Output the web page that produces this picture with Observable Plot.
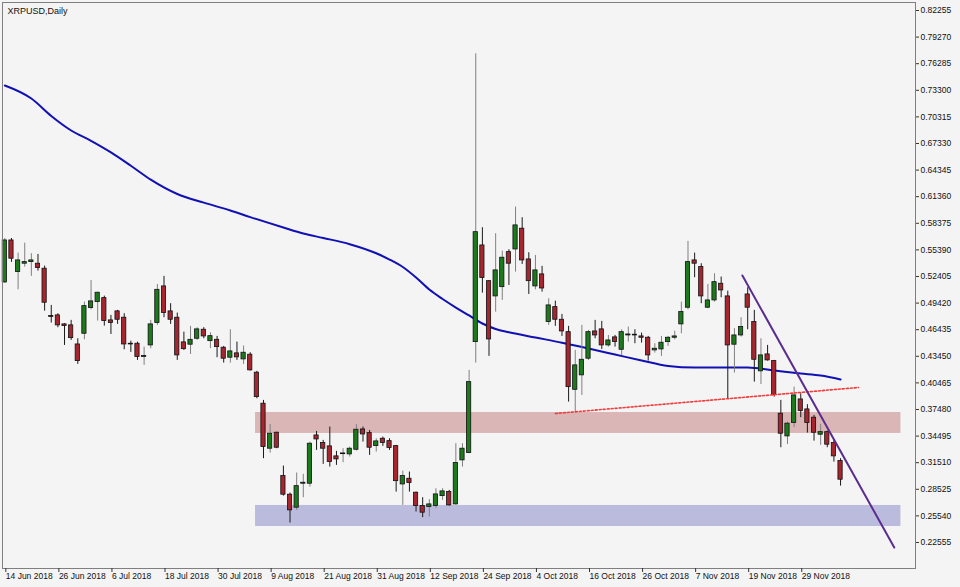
<!DOCTYPE html>
<html><head><meta charset="utf-8">
<script src="https://cdn.jsdelivr.net/npm/d3@7"></script>
<script src="https://cdn.jsdelivr.net/npm/@observablehq/plot@0.6"></script>
<style>
html,body{margin:0;padding:0;background:#f4f4f4;}
#chart svg{display:block;}
</style></head><body><div id="chart"></div>
<script>
const title = "XRPUSD,Daily";
const dateLabels = ["14 Jun 2018","26 Jun 2018","6 Jul 2018","18 Jul 2018","30 Jul 2018","9 Aug 2018","21 Aug 2018","31 Aug 2018","12 Sep 2018","24 Sep 2018","4 Oct 2018","16 Oct 2018","26 Oct 2018","7 Nov 2018","19 Nov 2018","29 Nov 2018"];
const dateTickIdx = [0,8,16,24,32,40,48,56,64,72,80,88,96,104,112,120];
const priceTicks = [0.82255,0.79270,0.76285,0.73300,0.70315,0.67330,0.64345,0.61360,0.58375,0.55390,0.52405,0.49420,0.46435,0.43450,0.40465,0.37480,0.34495,0.31510,0.28525,0.25540,0.22555];

const openP = [.5174,.5645,.5290,.5384,.5402,.5384,.5328,.4798,.4804,.4703,.4692,.4478,.4598,.4886,.4953,.4998,.4748,.4849,.4778,.4486,
.4486,.4338,.4467,.4718,.5129,.4849,.4778,.4501,.4475,.4542,.4643,.4515,.4530,.4441,.4329,.4378,.4310,.4363,.4161,.3813,
.3308,.3487,.3001,.2792,.2646,.2915,.2915,.3457,.3371,.3334,.3222,.3247,.3244,.3296,.3524,.3483,.3337,.3420,.3393,.3337,
.2907,.2971,.2814,.2664,.2653,.2664,.2776,.2821,.2683,.3177,.3259,.4504,.5589,.5188,.5017,.5121,.5514,.5544,.5777,.5432,
.5129,.5264,.4729,.4897,.4755,.4616,.3969,.4131,.4318,.4624,.4647,.4467,.4557,.4418,.4579,.4587,.4568,.4553,.4411,.4422,
.4504,.4553,.4703,.4890,.5421,.5346,.4890,.4972,.5159,.5017,.4475,.4579,.5039,.4729,.4176,.4366,.4291,.3701,.3446,.3596,
.3861,.3749,.3656,.3465,.3494,.3371,.3169];
const highP = [.5667,.5667,.5503,.5615,.5496,.5488,.5357,.4916,.4823,.4711,.4748,.4542,.4953,.5196,.5065,.5020,.4804,.4860,.4823,.4515,
.4504,.4448,.4748,.5151,.5242,.4935,.4830,.4616,.4681,.4666,.4666,.4609,.4568,.4456,.4643,.4504,.4461,.4385,.4176,.3850,
.3581,.3494,.3113,.2810,.3035,.3020,.3382,.3502,.3401,.3551,.3278,.3308,.3326,.3578,.3551,.3513,.3420,.3438,.3420,.3345,
.3057,.3046,.2821,.2758,.2736,.2859,.2859,.2840,.3364,.3364,.4187,.7740,.5788,.5196,.5720,.5525,.5541,.6019,.5900,.5507,
.5477,.5354,.4991,.4964,.4815,.4681,.4411,.4692,.4635,.4748,.4737,.4579,.4579,.4643,.4673,.4643,.4605,.4568,.4486,.4568,
.4568,.4627,.4953,.5634,.5503,.5384,.5151,.5272,.5234,.5076,.4655,.4778,.5114,.4860,.4542,.4467,.4299,.3850,.3607,.3999,
.3925,.3802,.3682,.3581,.3506,.3401,.3196];
const lowP = [.5162,.5399,.5091,.5346,.5242,.5301,.4852,.4718,.4666,.4467,.4523,.4254,.4530,.4867,.4740,.4684,.4590,.4703,.4418,.4389,
.4299,.4243,.4430,.4692,.4778,.4703,.4299,.4411,.4366,.4523,.4542,.4430,.4329,.4269,.4269,.4299,.4254,.4180,.3869,.3196,
.3259,.3308,.2776,.2474,.2616,.2758,.2877,.3289,.3132,.3102,.3121,.3151,.3214,.3281,.3382,.3233,.3270,.3334,.3289,.2821,
.2672,.2821,.2597,.2534,.2541,.2635,.2728,.2664,.2675,.3102,.3252,.4269,.5054,.4344,.4841,.4972,.5140,.5290,.5376,.5039,
.5091,.5065,.4692,.4681,.4568,.3831,.3708,.3906,.4299,.4542,.4422,.4448,.4448,.4355,.4504,.4486,.4493,.4291,.4381,.4344,
.4456,.4530,.4598,.4867,.5227,.4935,.4879,.4953,.5002,.3869,.4157,.4560,.4643,.4055,.4029,.4291,.3887,.3319,.3356,.3544,
.3656,.3483,.3393,.3345,.3319,.3158,.2888];
const closeP = [.5645,.5440,.5421,.5402,.5421,.5335,.4946,.4787,.4692,.4684,.4549,.4291,.4908,.4961,.5058,.4740,.4718,.4755,.4478,.4478,
.4336,.4349,.4703,.5091,.4830,.4755,.4355,.4425,.4530,.4647,.4568,.4571,.4448,.4318,.4400,.4333,.4385,.4187,.3887,.3326,
.3476,.3319,.2792,.2616,.2888,.2926,.3364,.3412,.3308,.3158,.3188,.3255,.3308,.3521,.3468,.3319,.3390,.3371,.3315,.2944,
.3001,.2922,.2664,.2590,.2683,.2795,.2829,.2672,.3147,.3308,.4055,.5738,.5223,.4534,.5309,.5451,.5384,.5814,.5421,.5188,
.5309,.5106,.4916,.4755,.4624,.3999,.4243,.4306,.4616,.4579,.4467,.4523,.4506,.4616,.4590,.4579,.4553,.4355,.4430,.4497,
.4553,.4568,.4841,.5402,.5384,.5017,.4972,.5177,.5084,.4467,.4579,.4673,.4890,.4306,.4355,.4299,.3912,.3476,.3589,.3906,
.3730,.3596,.3487,.3494,.3353,.3222,.2960];

// moving average (bar index, price)
const maIdx = [0,4,7,10,13,16,19,22,26,30,34,37,42,45,48,52,56,58,60,62,64,66,68,70,72,74,76,80,84,88,92,96,100,104,108,112,116,120,123,126];
const maVal = [.7384,.7238,.7042,.6879,.6763,.6633,.6483,.6327,.6166,.6069,.5981,.5907,.5790,.5723,.5673,.5603,.5501,.5431,.5347,.5229,.5094,.4988,.4892,.4803,.4713,.4651,.4615,.4556,.4498,.4432,.4365,.4298,.4236,.4219,.4219,.4219,.4186,.4152,.4129,.4085];

// zones (bar index span, price span)
const zoneStart = [37.8, 37.8];
const zoneEnd = [135.1, 135.1];
const zoneTop = [0.3714, 0.2671];
const zoneBottom = [0.3479, 0.2435];

// drawn trend lines (bar index, price)
const supportIdx = [83, 128.7];
const supportVal = [0.3703, 0.3995];
const downIdx = [111.2, 134.1];
const downVal = [0.5252, 0.2199];

const candles = openP.map((o, i) => ({i, o, h: highP[i], l: lowP[i], c: closeP[i], up: closeP[i] >= o}));
const ma = maIdx.map((i, k) => ({i, v: maVal[k]}));
const zones = zoneStart.map((s, k) => ({x1: s, x2: zoneEnd[k], y1: zoneBottom[k], y2: zoneTop[k], k}));
const support = supportIdx.map((i, k) => ({i, v: supportVal[k]}));
const down = downIdx.map((i, k) => ({i, v: downVal[k]}));
const up = candles.filter(d => d.up), dn = candles.filter(d => !d.up);

const chart = Plot.plot({
  width: 960, height: 587,
  marginTop: 2, marginRight: 45, marginBottom: 19, marginLeft: 2,
  style: {background: "#f4f4f4", fontFamily: "'Liberation Sans', Arial, sans-serif", fontSize: "8.5px", color: "#000"},
  x: {type: "linear", domain: [-0.35, 137.3]},
  y: {domain: [0.19636, 0.83153]},
  marks: [
    Plot.rect(zones.filter(d => d.k === 0), {x1: "x1", x2: "x2", y1: "y1", y2: "y2", fill: "#dbb6b6"}),
    Plot.rect(zones.filter(d => d.k === 1), {x1: "x1", x2: "x2", y1: "y1", y2: "y2", fill: "#bbbbdd"}),
    Plot.line(ma, {x: "i", y: "v", stroke: "#1010b4", strokeWidth: 2, curve: "monotone-x"}),
    Plot.ruleX(up, {x: "i", y1: "l", y2: "h", stroke: "#808080", strokeWidth: 1}),
    Plot.ruleX(dn, {x: "i", y1: "l", y2: "h", stroke: "#1a1a1a", strokeWidth: 1}),
    Plot.rect(up, {x1: d => d.i - 0.32, x2: d => d.i + 0.32, y1: "o", y2: "c", fill: "#1c7a1c", stroke: "#111", strokeWidth: 0.8}),
    Plot.rect(dn, {x1: d => d.i - 0.32, x2: d => d.i + 0.32, y1: "o", y2: "c", fill: "#a5262f", stroke: "#111", strokeWidth: 0.8}),
    Plot.line(support, {x: "i", y: "v", stroke: "#f23a3a", strokeWidth: 1.6, strokeDasharray: "2,2"}),
    Plot.line(down, {x: "i", y: "v", stroke: "#5a2d8f", strokeWidth: 2}),
    Plot.frame({stroke: "#7f7f7f"}),
    Plot.axisY(priceTicks, {anchor: "right", tickSize: 3, tickPadding: 2, tickFormat: d => d.toFixed(5), fill: "#111", stroke: "#333"}),
    Plot.axisX(dateTickIdx, {anchor: "bottom", tickSize: 4, tickPadding: 0, textAnchor: "start", dx: 1, tickFormat: d => dateLabels[dateTickIdx.indexOf(d)], fill: "#111", stroke: "#333"}),
    Plot.text([title], {frameAnchor: "top-left", dx: 5, dy: 5, fontSize: 9, fill: "#111", textAnchor: "start", lineAnchor: "top"})
  ]
});
document.getElementById("chart").appendChild(chart);
</script></body></html>
